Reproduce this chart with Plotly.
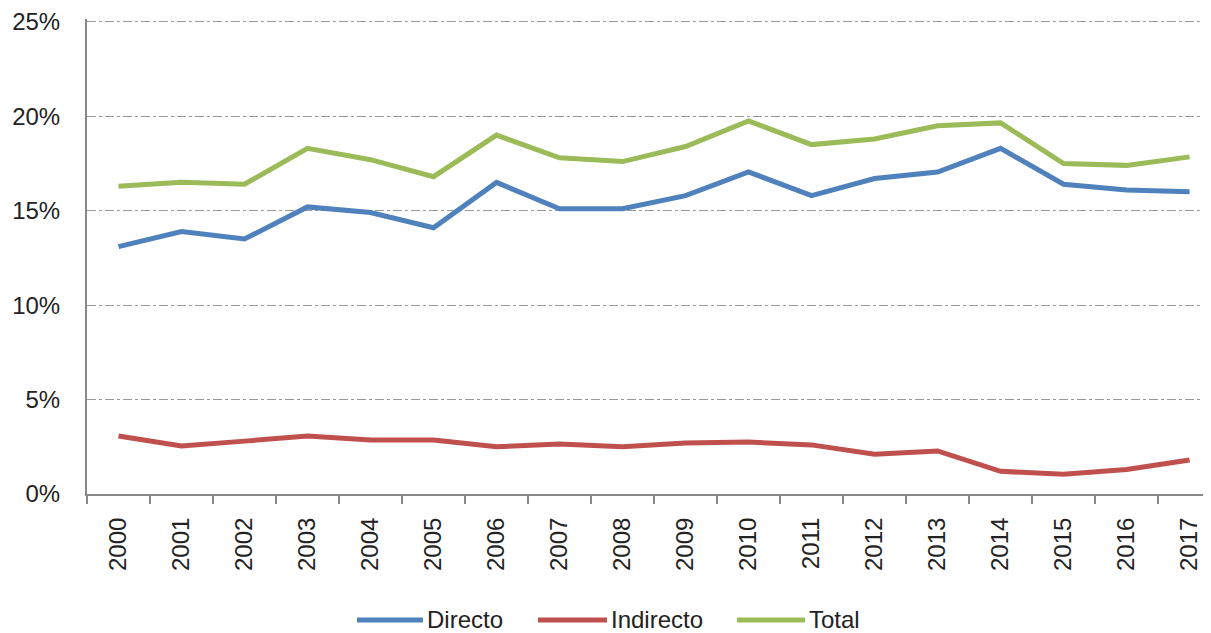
import plotly.graph_objects as go

years = [str(y) for y in range(2000, 2018)]
directo = [13.1, 13.9, 13.5, 15.2, 14.9, 14.1, 16.5, 15.1, 15.1, 15.8, 17.05, 15.8, 16.7, 17.05, 18.3, 16.4, 16.1, 16.0]
indirecto = [3.07, 2.54, 2.8, 3.07, 2.86, 2.86, 2.5, 2.65, 2.5, 2.7, 2.75, 2.6, 2.1, 2.28, 1.2, 1.05, 1.3, 1.8]
total = [16.3, 16.5, 16.4, 18.3, 17.7, 16.8, 19.0, 17.8, 17.6, 18.4, 19.75, 18.5, 18.8, 19.5, 19.65, 17.5, 17.4, 17.85]
y_ticks = [0, 5, 10, 15, 20, 25]
y_labels = ["0%", "5%", "10%", "15%", "20%", "25%"]

series = [("Directo", directo, "#4F81BD"),
          ("Indirecto", indirecto, "#C0504D"),
          ("Total", total, "#9BBB59")]

fig = go.Figure()
for name, vals, col in series:
    fig.add_trace(go.Scatter(x=years, y=vals, name=name, mode="lines",
                             line=dict(color=col, width=5), showlegend=False))

# custom legend (line sample + label), positions in paper coordinates
leg_x = [(0.2402, 0.2989), (0.4012, 0.4626), (0.5783, 0.6388)]
leg_y = -0.265
for (name, _, col), (x0, x1) in zip(series, leg_x):
    fig.add_shape(type="line", xref="paper", yref="paper", x0=x0, x1=x1,
                  y0=leg_y, y1=leg_y, line=dict(color=col, width=5))
    fig.add_annotation(xref="paper", yref="paper", x=x1 + 0.002, y=leg_y,
                       text=name, showarrow=False, xanchor="left", yanchor="middle",
                       font=dict(size=24, color="#222"))

fig.update_layout(
    width=1203, height=625,
    paper_bgcolor="white", plot_bgcolor="white",
    margin=dict(l=79, r=0, t=11, b=139),
    font=dict(family="Liberation Sans, Arial, sans-serif", color="#222"),
    showlegend=False,
)
fig.update_xaxes(
    type="category", range=[-0.5, 17.34], automargin=False,
    showline=True, linecolor="#888", linewidth=2,
    ticks="outside", tickson="boundaries", ticklen=8, tickcolor="#888", tickwidth=2,
    tickangle=-90, tickfont=dict(size=24, color="#222"), ticklabelstandoff=12,
    showgrid=False,
)
fig.update_yaxes(
    range=[0, 25.15], tickvals=y_ticks, ticktext=y_labels, automargin=False,
    showline=True, linecolor="#888", linewidth=2,
    showgrid=True, gridcolor="#999", griddash="dashdot", gridwidth=1,
    tickfont=dict(size=24, color="#222"), ticks="", ticklabelstandoff=20,
    zeroline=False,
)
fig.write_html("out.html")
